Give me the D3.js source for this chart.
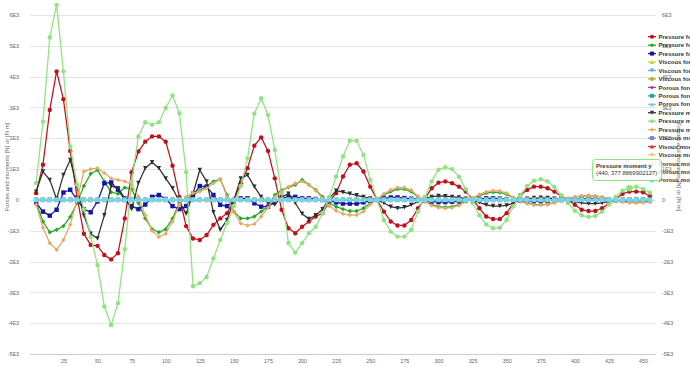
<!DOCTYPE html>
<html lang="en">
<head>
<meta charset="UTF-8">
<title>Forces and moments</title>
<script src="https://d3js.org/d3.v7.min.js"></script>
<style>
  body { margin: 0; background: #fff; }
  svg { display: block; font-family: "Liberation Sans", Arial, sans-serif; }
</style>
</head>
<body>
<svg width="690" height="366"></svg>
<script>
// x positions (step 5)
var xValues = [5,10,15,20,25,30,35,40,45,50,55,60,65,70,75,80,85,90,95,100,
  105,110,115,120,125,130,135,140,145,150,155,160,165,170,175,180,185,190,195,200,
  205,210,215,220,225,230,235,240,245,250,255,260,265,270,275,280,285,290,295,300,
  305,310,315,320,325,330,335,340,345,350,355,360,365,370,375,380,385,390,395,400,
  405,410,415,420,425,430,435,440,445,450,455];

var xTicks = [25,50,75,100,125,150,175,200,225,250,275,300,325,350,375,400,425,450];
var yTicks = [-5000,-4000,-3000,-2000,-1000,0,1000,2000,3000,4000,5000,6000];

var pressureForceX = [220,1140,2920,4170,3270,1590,100,-1100,-1460,-1490,
  -1790,-1930,-1730,-600,900,1570,1890,2060,2060,1890,
  1110,100,-850,-1250,-1300,-1140,-810,-600,-430,0,
  540,1030,1760,2030,1590,700,-320,-920,-1080,-870,
  -700,-540,-430,-50,220,760,1140,1190,920,430,
  0,-380,-700,-830,-830,-650,-270,30,380,560,
  600,540,430,270,30,-270,-540,-620,-620,-430,
  -110,160,320,430,430,380,270,120,0,-160,
  -320,-360,-360,-270,-110,30,200,270,270,250,
  120];

var pressureForceY = [-100,-700,-1050,-970,-850,-550,-100,450,850,970,
  600,250,200,400,350,-100,-600,-950,-1050,-950,
  -600,-100,50,150,300,450,600,670,160,-380,
  -600,-600,-540,-380,-220,160,320,410,490,650,
  490,320,100,-110,-220,-300,-360,-360,-270,-110,
  20,160,270,350,350,270,90,-50,-150,-220,
  -240,-220,-150,-50,50,150,220,250,240,180,
  60,-40,-100,-150,-160,-140,-80,-20,40,90,
  130,140,130,90,30,-20,-50,-70,-80,-70,
  -50];

var pressureForceZ = [-100,-380,-510,-320,240,330,0,-300,-400,-50,
  540,570,330,0,-200,-300,-150,100,160,30,
  -200,-300,-200,150,450,430,160,-160,-200,-50,
  50,50,-110,-220,-220,-50,50,100,100,50,
  50,30,0,-20,-80,-120,-120,-120,-80,-30,
  0,50,80,80,60,40,20,-20,-50,-70,
  -70,-60,-40,-20,0,30,50,50,40,20,
  0,-20,-30,-40,-40,-30,-10,0,10,20,
  30,30,30,20,0,-10,-20,-20,-20,-20,
  -10];

var pressureMomentX = [270,920,650,30,810,1300,430,-500,-1100,-1250,
  -500,450,380,50,-300,550,1030,1220,1030,700,
  380,-50,-450,200,970,600,-400,-970,-650,0,
  700,810,430,100,-100,-150,100,200,-100,-450,
  -620,-500,-300,50,300,250,200,150,100,50,
  0,-100,-220,-270,-240,-160,-50,50,100,130,
  120,100,80,40,0,-80,-160,-200,-200,-180,
  -100,0,40,60,70,60,40,10,-20,-60,
  -100,-120,-120,-100,-50,-20,0,0,10,10,
  10];

var pressureMomentY = [550,2540,5270,6330,4170,1730,490,-300,-1200,-2110,
  -3460,-4060,-3350,-1600,600,2060,2520,2440,2520,2980,
  3390,2810,900,-2800,-2700,-2500,-1900,-1300,-750,-200,
  450,1350,2800,3300,2760,1620,220,-1400,-1710,-1400,
  -1080,-870,-430,100,760,1410,1920,1920,1460,650,
  0,-650,-1030,-1190,-1190,-970,-380,100,600,980,
  1060,1000,750,350,-100,-500,-800,-920,-900,-650,
  -200,150,450,620,670,600,420,150,-100,-350,
  -500,-550,-520,-380,-150,100,300,377.8869902127,430,350,
  240];

var pressureMomentZ = [-150,-900,-1400,-1620,-1300,-800,0,920,1000,1030,
  870,700,650,600,490,100,-500,-1000,-1200,-1100,
  -700,-150,100,220,270,380,540,670,100,-400,
  -760,-830,-780,-540,-250,100,270,430,540,600,
  490,300,50,-200,-350,-450,-490,-490,-380,-150,
  20,200,320,400,400,320,120,-50,-180,-250,
  -270,-250,-180,-60,60,180,260,300,290,220,
  80,-40,-120,-160,-170,-150,-90,-20,50,100,
  130,140,130,90,30,-30,-70,-90,-100,-90,
  -70];

// viscous and porous terms stay on the zero line
var nearZero = [0,0,0,0,0,0,0,0,0,0,0,0,0,0,0,0,0,0,0,0,
  0,0,0,0,0,0,0,0,0,0,0,0,0,0,0,0,0,0,0,0,
  0,0,0,0,0,0,0,0,0,0,0,0,0,0,0,0,0,0,0,0,
  0,0,0,0,0,0,0,0,0,0,0,0,0,0,0,0,0,0,0,0,
  0,0,0,0,0,0,0,0,0,0,0];

var seriesNames = ["Pressure force x","Pressure force y","Pressure force z",
  "Viscous force x","Viscous force y","Viscous force z",
  "Porous force x","Porous force y","Porous force z",
  "Pressure moment x","Pressure moment y","Pressure moment z",
  "Viscous moment x","Visous moment y","Viscous moment z",
  "Porous moment x","Porous moment y","Porous moment z"];

var seriesColors = ["#c0101c","#22a822","#1414a8",
  "#c8d03c","#40b8d8","#b8b020",
  "#a040b0","#20a898","#80c0e0",
  "#2e2e2e","#8ee47e","#e8a868",
  "#8080e0","#d03040","#f0c878",
  "#f0a0a0","#a8a8a8","#70d8e8"];

var seriesData = [pressureForceX, pressureForceY, pressureForceZ,
  nearZero, nearZero, nearZero, nearZero, nearZero, nearZero,
  pressureMomentX, pressureMomentY, pressureMomentZ,
  nearZero, nearZero, nearZero, nearZero, nearZero, nearZero];

var symbols = ["circle","diamond","square","triangle","triangle-down"];

var svg = d3.select("svg");
var plotLeft = 30, plotRight = 656, plotTop = 15, plotBottom = 354;

var x = d3.scaleLinear().domain([0.5, 459.5]).range([plotLeft, plotRight]);
var y = d3.scaleLinear().domain([-5000, 6000]).range([plotBottom, plotTop]);

function fmt(v) { return v === 0 ? "0" : (v / 1000) + "E3"; }

function symbolPath(type, r) {
  if (type === "circle") return "M" + (-r) + ",0a" + r + "," + r + " 0 1,0 " + (2*r) + ",0a" + r + "," + r + " 0 1,0 " + (-2*r) + ",0Z";
  if (type === "square") return "M" + (-r) + "," + (-r) + "h" + (2*r) + "v" + (2*r) + "h" + (-2*r) + "Z";
  if (type === "diamond") return "M0," + (-r) + "L" + r + ",0L0," + r + "L" + (-r) + ",0Z";
  if (type === "triangle") return "M0," + (-r) + "L" + r + "," + r + "L" + (-r) + "," + r + "Z";
  return "M" + (-r) + "," + (-r) + "L" + r + "," + (-r) + "L0," + r + "Z";
}

// grid lines
svg.append("g").selectAll("line")
  .data(yTicks)
  .enter().append("line")
  .attr("x1", plotLeft).attr("x2", plotRight)
  .attr("y1", function(d) { return Math.round(y(d)) + 0.5; })
  .attr("y2", function(d) { return Math.round(y(d)) + 0.5; })
  .attr("stroke", function(d) { return d === -5000 ? "#c0d0e0" : "#e5e5e5"; })
  .attr("stroke-width", 1);

function styleAxis(g) {
  g.attr("font-size", null).attr("font-family", null);
  g.select(".domain").remove();
  g.selectAll("text").attr("fill", "#666").style("font-size", "5.3px");
}

svg.append("g")
  .attr("transform", "translate(" + plotLeft + ",0)")
  .call(d3.axisLeft(y).tickValues(yTicks).tickFormat(fmt).tickSize(0).tickPadding(11))
  .call(styleAxis);

svg.append("g")
  .attr("transform", "translate(" + plotRight + ",0)")
  .call(d3.axisRight(y).tickValues(yTicks).tickFormat(fmt).tickSize(0).tickPadding(6))
  .call(styleAxis);

svg.append("g")
  .attr("transform", "translate(0," + plotBottom + ")")
  .call(d3.axisBottom(x).tickValues(xTicks).tickSize(0).tickPadding(5))
  .call(styleAxis);

// axis titles
var title = "Forces and moments [N] or [N m]";
svg.append("text")
  .attr("transform", "translate(8.5,167) rotate(-90)")
  .attr("text-anchor", "middle")
  .attr("fill", "#666")
  .style("font-size", "6px")
  .text(title);
svg.append("text")
  .attr("transform", "translate(677,167) rotate(90)")
  .attr("text-anchor", "middle")
  .attr("fill", "#666")
  .style("font-size", "6px")
  .text(title);

// series
var line = d3.line()
  .x(function(d, j) { return x(xValues[j]); })
  .y(function(d) { return y(d); });

var markerR = 2.2;

seriesData.forEach(function(data, i) {
  var g = svg.append("g");
  g.append("path")
    .datum(data)
    .attr("d", line)
    .attr("fill", "none")
    .attr("stroke", seriesColors[i])
    .attr("stroke-width", 1.25)
    .attr("stroke-linejoin", "round");
  g.selectAll("path.pt")
    .data(data)
    .enter().append("path")
    .attr("class", "pt")
    .attr("transform", function(d, j) { return "translate(" + x(xValues[j]) + "," + y(d) + ")"; })
    .attr("d", symbolPath(symbols[i % 5], markerR))
    .attr("fill", seriesColors[i]);
});

// legend
var legend = svg.append("g");
var item = legend.selectAll("g")
  .data(seriesNames)
  .enter().append("g")
  .attr("transform", function(d, i) { return "translate(0," + (36.7 + i * 8.45) + ")"; });
item.append("line")
  .attr("x1", 648).attr("x2", 656)
  .attr("stroke", function(d, i) { return seriesColors[i]; })
  .attr("stroke-width", 1.3);
item.append("path")
  .attr("transform", "translate(652,0)")
  .attr("d", function(d, i) { return symbolPath(symbols[i % 5], 2); })
  .attr("fill", function(d, i) { return seriesColors[i]; });
item.append("text")
  .attr("x", 658.5)
  .attr("dy", "0.35em")
  .attr("fill", "#333")
  .style("font-size", "6px")
  .style("font-weight", "bold")
  .text(function(d) { return d; });

// hovered point and tooltip
var hx = 440, hv = pressureMomentY[xValues.indexOf(440)];
svg.append("path")
  .attr("transform", "translate(" + x(hx) + "," + y(hv) + ")")
  .attr("d", symbolPath("circle", 3.2))
  .attr("fill", seriesColors[10]);

var tip = svg.append("g").attr("transform", "translate(592.5,159.5)");
tip.append("rect")
  .attr("width", 69).attr("height", 21)
  .attr("rx", 3)
  .attr("fill", "rgba(255,255,255,0.85)")
  .attr("stroke", seriesColors[10])
  .attr("stroke-width", 1);
tip.append("text")
  .attr("x", 3.5).attr("y", 8)
  .attr("fill", "#333")
  .style("font-size", "6px")
  .style("font-weight", "bold")
  .text(seriesNames[10]);
tip.append("text")
  .attr("x", 3.5).attr("y", 15.5)
  .attr("fill", "#333")
  .style("font-size", "5.9px")
  .text("(" + hx + ", " + hv + ")");
</script>
</body>
</html>
